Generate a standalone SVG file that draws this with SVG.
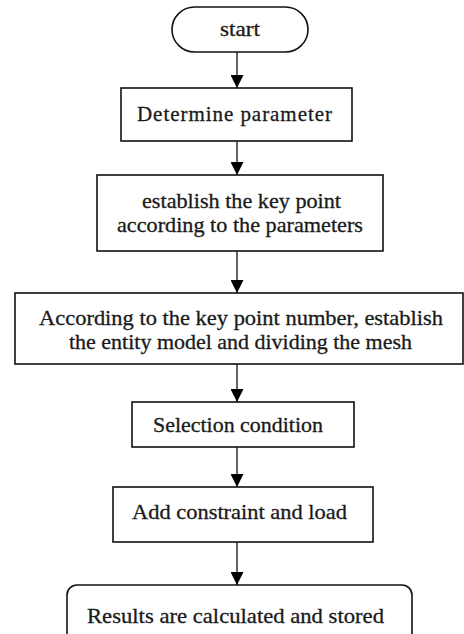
<svg xmlns="http://www.w3.org/2000/svg" width="464" height="634" viewBox="0 0 464 634">
<style>
.box{fill:#fff;stroke:#111;stroke-width:1.6}
.t{font-family:"Liberation Serif","Times New Roman",serif;font-size:21px;fill:#1a1a1a;stroke:#1a1a1a;stroke-width:0.3;text-anchor:middle}
.c{stroke:#111;stroke-width:1.3;fill:none}
</style>
<defs>
<marker id="ah" markerWidth="14" markerHeight="13" refX="13" refY="6.5" orient="auto" markerUnits="userSpaceOnUse">
<path d="M0,0 L13,6.5 L0,13 Z" fill="#000"/>
</marker>
</defs>
<rect width="464" height="634" fill="#fff"/>
<g id="connectors">
<line class="c" x1="237" y1="52" x2="237" y2="88" marker-end="url(#ah)"/>
<line class="c" x1="237" y1="141" x2="237" y2="175" marker-end="url(#ah)"/>
<line class="c" x1="237" y1="251" x2="237" y2="293" marker-end="url(#ah)"/>
<line class="c" x1="237" y1="364" x2="237" y2="402" marker-end="url(#ah)"/>
<line class="c" x1="237" y1="447" x2="237" y2="487" marker-end="url(#ah)"/>
<line class="c" x1="237" y1="542" x2="237" y2="585" marker-end="url(#ah)"/>
</g>
<g id="start">
<rect class="box" x="172" y="7" width="136" height="45" rx="22.5"/>
<text class="t" x="240" y="36" textLength="40" lengthAdjust="spacingAndGlyphs">start</text>
</g>
<g id="determine">
<rect class="box" x="121" y="88" width="231" height="53"/>
<text class="t" x="234.5" y="121" font-size="20" textLength="195" lengthAdjust="spacing">Determine parameter</text>
</g>
<g id="keypoint">
<rect class="box" x="97" y="175" width="286" height="76"/>
<text class="t" x="241.5" y="208" textLength="199" lengthAdjust="spacingAndGlyphs">establish the key point</text>
<text class="t" x="240" y="232" textLength="246" lengthAdjust="spacingAndGlyphs">according to the parameters</text>
</g>
<g id="entity">
<rect class="box" x="15" y="293" width="448" height="71"/>
<text class="t" x="241" y="325" textLength="404" lengthAdjust="spacingAndGlyphs">According to the key point number,  establish</text>
<text class="t" x="240.5" y="349" textLength="343" lengthAdjust="spacingAndGlyphs">the entity model and dividing the mesh</text>
</g>
<g id="selection">
<rect class="box" x="132" y="402" width="222" height="45"/>
<text class="t" x="238" y="432" textLength="170" lengthAdjust="spacingAndGlyphs">Selection condition</text>
</g>
<g id="constraint">
<rect class="box" x="113" y="487" width="260" height="55"/>
<text class="t" x="239.5" y="519" textLength="215" lengthAdjust="spacingAndGlyphs">Add constraint and load</text>
</g>
<g id="results">
<rect class="box" x="67" y="585" width="345" height="70" rx="10"/>
<text class="t" x="235.5" y="623" textLength="297" lengthAdjust="spacingAndGlyphs">Results are calculated  and stored</text>
</g>
</svg>
